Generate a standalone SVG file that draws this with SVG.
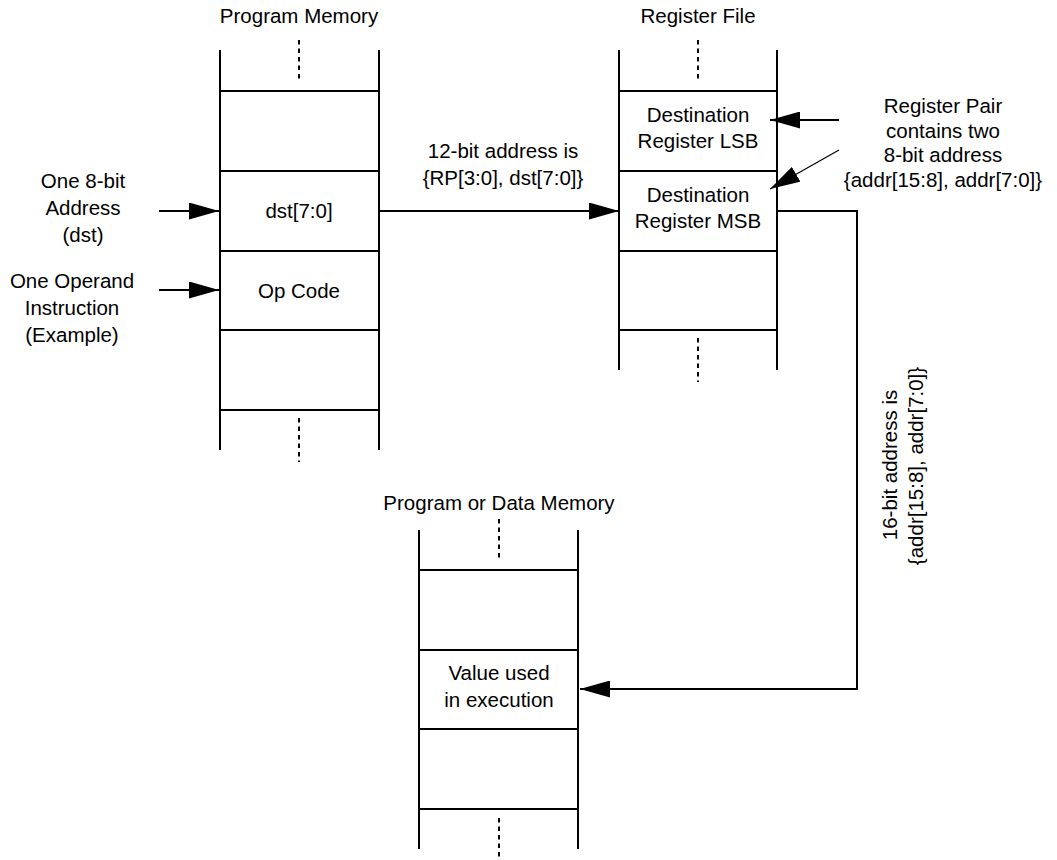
<svg xmlns="http://www.w3.org/2000/svg" width="1057" height="860" viewBox="0 0 1057 860">
<style>
  .ln { stroke: #000; stroke-width: 2; fill: none; }
  .dot { stroke: #000; stroke-width: 2; fill: none; stroke-dasharray: 4.5 4; }
  .cn { stroke: #000; stroke-width: 2; fill: none; }
  .thin { stroke: #000; stroke-width: 1.2; fill: none; }
  text { font-family: "Liberation Sans", Arial, sans-serif; font-size: 20.5px; fill: #000; text-anchor: middle; }
</style>
<defs>
  <marker id="ah" markerUnits="userSpaceOnUse" markerWidth="30" markerHeight="17" refX="30" refY="8.5" orient="auto" viewBox="0 0 30 17">
    <path d="M0,0 L30,8.5 L0,17 z" fill="#000"/>
  </marker>
</defs>
<rect width="1057" height="860" fill="#fff"/>

<g id="program-memory">
  <text x="299" y="23">Program Memory</text>
  <line class="dot" x1="299" y1="40" x2="299" y2="82"/>
  <line class="ln" x1="220" y1="50" x2="220" y2="450"/>
  <line class="ln" x1="379" y1="50" x2="379" y2="450"/>
  <line class="ln" x1="220" y1="91" x2="379" y2="91"/>
  <line class="ln" x1="220" y1="171" x2="379" y2="171"/>
  <line class="ln" x1="220" y1="251" x2="379" y2="251"/>
  <line class="ln" x1="220" y1="330" x2="379" y2="330"/>
  <line class="ln" x1="220" y1="410" x2="379" y2="410"/>
  <line class="dot" x1="299" y1="418" x2="299" y2="462"/>
  <text x="299" y="218">dst[7:0]</text>
  <text x="299" y="298">Op Code</text>
</g>

<g id="register-file">
  <text x="698" y="23">Register File</text>
  <line class="dot" x1="698" y1="40" x2="698" y2="82"/>
  <line class="ln" x1="619" y1="50" x2="619" y2="370"/>
  <line class="ln" x1="777" y1="50" x2="777" y2="370"/>
  <line class="ln" x1="619" y1="91" x2="777" y2="91"/>
  <line class="ln" x1="619" y1="171" x2="777" y2="171"/>
  <line class="ln" x1="619" y1="251" x2="777" y2="251"/>
  <line class="ln" x1="619" y1="330" x2="777" y2="330"/>
  <line class="dot" x1="698" y1="338" x2="698" y2="382"/>
  <text x="698" y="122">Destination</text>
  <text x="698" y="148">Register LSB</text>
  <text x="698" y="202">Destination</text>
  <text x="698" y="228">Register MSB</text>
</g>

<g id="data-memory">
  <text x="499" y="510">Program or Data Memory</text>
  <line class="dot" x1="499" y1="519" x2="499" y2="561"/>
  <line class="ln" x1="419" y1="530" x2="419" y2="849"/>
  <line class="ln" x1="578" y1="530" x2="578" y2="849"/>
  <line class="ln" x1="419" y1="570" x2="578" y2="570"/>
  <line class="ln" x1="419" y1="650" x2="578" y2="650"/>
  <line class="ln" x1="419" y1="729" x2="578" y2="729"/>
  <line class="ln" x1="419" y1="809" x2="578" y2="809"/>
  <line class="dot" x1="499" y1="818" x2="499" y2="860"/>
  <text x="499" y="680">Value used</text>
  <text x="499" y="707">in execution</text>
</g>

<g id="label-address">
  <text x="83" y="188">One 8-bit</text>
  <text x="83" y="215">Address</text>
  <text x="83" y="242">(dst)</text>
</g>
<g id="label-instruction">
  <text x="72" y="288">One Operand</text>
  <text x="72" y="315">Instruction</text>
  <text x="72" y="342">(Example)</text>
</g>
<g id="label-register-pair">
  <text x="943" y="113">Register Pair</text>
  <text x="943" y="138">contains two</text>
  <text x="943" y="162">8-bit address</text>
  <text x="943" y="187">{addr[15:8], addr[7:0]}</text>
</g>

<g id="connectors">
  <line class="cn" x1="159" y1="211" x2="219" y2="211" marker-end="url(#ah)"/>
  <line class="cn" x1="159" y1="290" x2="219" y2="290" marker-end="url(#ah)"/>
  <line class="cn" x1="379" y1="211" x2="619" y2="211" marker-end="url(#ah)"/>
  <line class="cn" x1="839" y1="120" x2="770" y2="120" marker-end="url(#ah)"/>
  <line class="thin" x1="839" y1="150" x2="770" y2="189" marker-end="url(#ah)"/>
  <polyline class="cn" points="777,211 857,211 857,689 580,689" marker-end="url(#ah)"/>
  <text x="503" y="158">12-bit address is</text>
  <text x="503" y="185">{RP[3:0], dst[7:0]}</text>
  <text transform="translate(897,465) rotate(-90)">16-bit address is</text>
  <text transform="translate(923,466) rotate(-90)">{addr[15:8], addr[7:0]}</text>
</g>
</svg>
